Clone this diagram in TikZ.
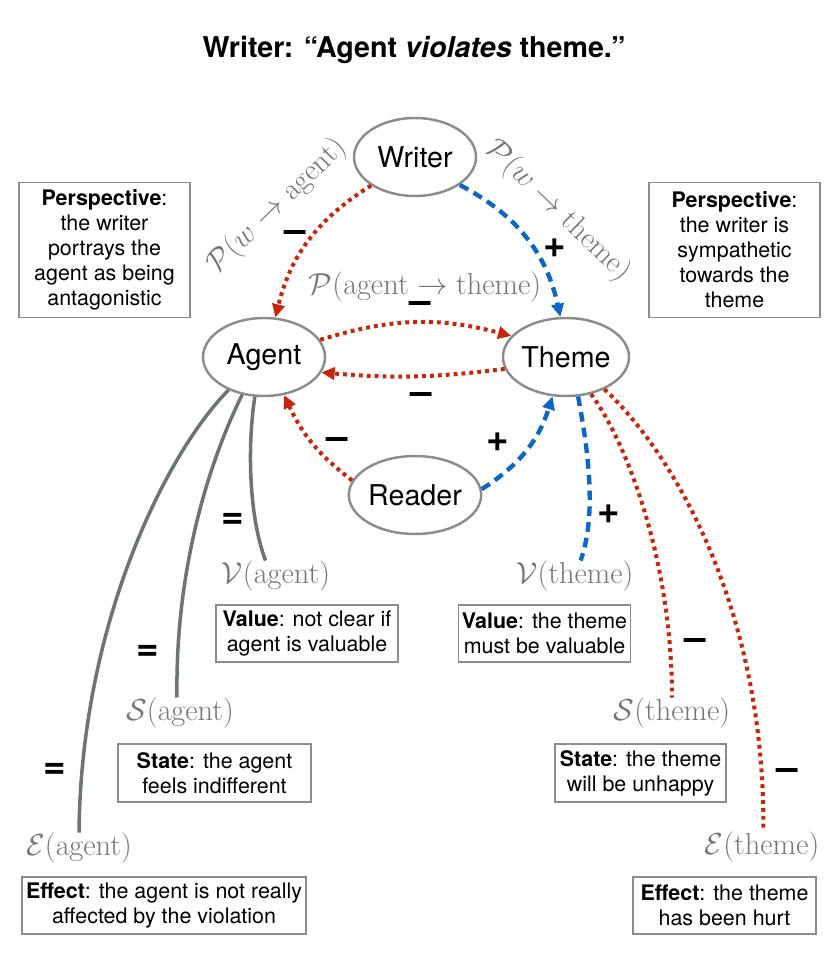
\documentclass[tikz,border=0pt]{standalone}
\usepackage[no-math]{fontspec}
\setmainfont{TeX Gyre Heros}
\usepackage{tikz}
\usetikzlibrary{arrows.meta,shapes.geometric}

\definecolor{negred}{RGB}{200,38,12}
\definecolor{posblue}{RGB}{14,102,196}
\definecolor{neugray}{RGB}{107,117,113}
\definecolor{ringgray}{RGB}{140,140,140}
\definecolor{labgray}{RGB}{118,118,118}

\tikzset{
  actor/.style={ellipse,draw=ringgray,line width=1.4pt,minimum width=2.44cm,minimum height=1.56cm,inner sep=0pt,font=\fontsize{16.3}{18}\selectfont},
  note/.style={draw=ringgray,line width=0.7pt,align=center,inner sep=2pt,font=\fontsize{12.2}{14.2}\selectfont},
  mlab/.style={text=labgray,inner sep=0pt,font=\fontsize{16.9}{18}\selectfont},
  sgn/.style={inner sep=0pt,text height=0.58em,text depth=0pt,font=\fontsize{22}{22}\selectfont\bfseries},
  negarc/.style={draw=negred,line width=2.3pt,dash pattern=on 2.2pt off 2.3pt},
  posarc/.style={draw=posblue,line width=2.5pt,dash pattern=on 5.5pt off 3.5pt},
  neuarc/.style={draw=neugray,line width=2pt},
  arrowtip/.style={-{Triangle[length=7.5pt,width=7pt]}}
}

\begin{document}
\begin{tikzpicture}[x=0.02cm,y=-0.02cm]
\useasboundingbox (0,0) rectangle (830,973);
% title
\node[font=\fontsize{16.3}{19}\selectfont\bfseries] (title) at (414,50) {Writer: “Agent \textit{violates} theme.”};
% the four parties
\node[actor] (writer) at (415,157) {Writer};
\node[actor] (agent) at (264,357) {Agent};
\node[actor] (theme) at (566,357) {Theme};
\node[actor] (reader) at (415,495) {Reader};
% explanation boxes
\node[note,minimum width=3.42cm,minimum height=2.7cm] (perspA) at (104.5,250) {\textbf{Perspective}:\\the writer\\portrays the\\agent as being\\antagonistic};
\node[note,minimum width=3.42cm,minimum height=2.7cm] (perspT) at (734.5,250) {\textbf{Perspective}:\\the writer is\\sympathetic\\towards the\\theme};
\node[note,minimum width=3.64cm,minimum height=1.14cm] (valA) at (307,633.5) {\textbf{Value}: not clear if\\agent is valuable};
\node[note,minimum width=3.42cm,minimum height=1.14cm] (valT) at (544.5,633.5) {\textbf{Value}: the theme\\must be valuable};
\node[note,minimum width=3.86cm,minimum height=1.16cm] (staA) at (214.5,773) {\textbf{State}: the agent\\feels indifferent};
\node[note,minimum width=3.42cm,minimum height=1.16cm] (staT) at (640.5,773) {\textbf{State}: the theme\\will be unhappy};
\node[note,minimum width=5.68cm,minimum height=1.14cm] (effA) at (164,905.5) {\textbf{Effect}: the agent is not really\\affected by the violation};
\node[note,minimum width=3.66cm,minimum height=1.14cm] (effT) at (724.5,905.5) {\textbf{Effect}: the theme\\has been hurt};
% math labels
\node[mlab,rotate=44] (pwa) at (277,206) {$\mathcal{P}(w\rightarrow\mathrm{agent})$};
\node[mlab,rotate=-44] (pwt) at (558,211) {$\mathcal{P}(w\rightarrow\mathrm{theme})$};
\node[mlab] (pat) at (425,287) {$\mathcal{P}(\mathrm{agent}\rightarrow\mathrm{theme})$};
\node[mlab] (vA) at (276,576) {$\mathcal{V}(\mathrm{agent})$};
\node[mlab] (vT) at (575,576) {$\mathcal{V}(\mathrm{theme})$};
\node[mlab] (sA) at (180,713) {$\mathcal{S}(\mathrm{agent})$};
\node[mlab] (sT) at (672,713) {$\mathcal{S}(\mathrm{theme})$};
\node[mlab] (eA) at (79,848) {$\mathcal{E}(\mathrm{agent})$};
\node[mlab] (eT) at (762,847) {$\mathcal{E}(\mathrm{theme})$};
% perspective arrows
\draw[negarc,arrowtip] (writer.213) to[bend right=22] (agent.74);
\draw[posarc,arrowtip] (writer.-32) to[bend left=25] (theme.98);
\draw[negarc,arrowtip] (agent.17) to[bend left=16] (theme.159);
\draw[negarc,arrowtip] (theme.191) to[bend left=6] (agent.-15);
\draw[negarc,arrowtip] (reader.167) to[bend left=14] (agent.-62);
\draw[posarc,arrowtip] (reader.5) to[bend right=20] (theme.251);
% value, state and effect stems
\draw[neuarc] (agent.-103) .. controls +(-8,53) and +(-16,-42) .. (vA.124);
\draw[neuarc] (agent.-120) .. controls +(-28,56) and +(-2,-138) .. (sA.101);
\draw[neuarc] (agent.-137) .. controls +(-60,60) and +(2,-212) .. (eA.north);
\draw[posarc] (theme.-73) .. controls +(12,63) and +(15,-42) .. (vT.70);
\draw[negarc] (theme.-56) .. controls +(35,47) and +(0,-138) .. (sT.north);
\draw[negarc] (theme.-40) .. controls +(77,72) and +(2,-210) .. (eT.85);
% signs
\node[sgn] (sgWA) at (295,237) {–};
\node[sgn] (sgWT) at (555,252) {+};
\node[sgn] (sgAT) at (420,308) {–};
\node[sgn] (sgTA) at (421,399) {–};
\node[sgn] (sgRA) at (337,444) {–};
\node[sgn] (sgRT) at (498,446) {+};
\node[sgn] (sgVA) at (233,523) {=};
\node[sgn] (sgVT) at (609,518) {+};
\node[sgn] (sgSA) at (148,655) {=};
\node[sgn] (sgST) at (695,645) {–};
\node[sgn] (sgEA) at (55,773) {=};
\node[sgn] (sgET) at (787,775) {–};
\end{tikzpicture}
\end{document}
